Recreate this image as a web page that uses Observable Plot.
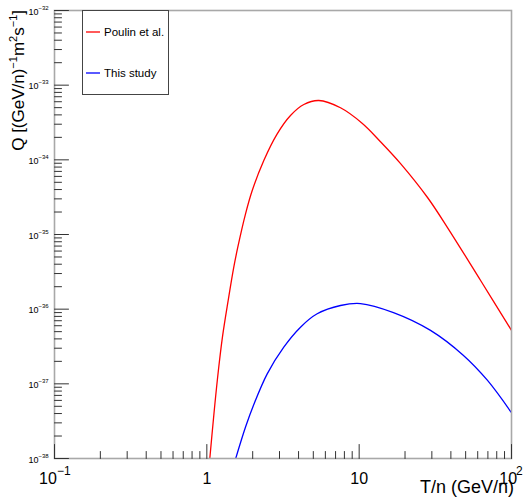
<!DOCTYPE html>
<html>
<head>
<meta charset="utf-8">
<script src="https://cdn.jsdelivr.net/npm/d3@7"></script>
<script src="https://cdn.jsdelivr.net/npm/@observablehq/plot@0.6"></script>
<style>
  html, body { margin: 0; padding: 0; background: #fff; }
  svg { font-family: "Liberation Sans", Arial, sans-serif; }
</style>
</head>
<body>
<div id="chart"></div>
<script>
// ---- data ----
const seriesNames = ["Poulin et al.", "This study"];
const seriesColors = ["#ff0000", "#0000ff"];

const poulinT = [1.046, 1.106, 1.175, 1.268, 1.381, 1.503, 1.597, 1.795, 1.986, 2.366, 2.897, 3.541, 4.332, 5.433, 7.54, 10.5, 13.8, 18.7, 28.1, 38, 62.7, 100];
const poulinQ = [1e-38, 3.44e-38, 1.18e-37, 4.31e-37, 1.31e-36, 3.65e-36, 6.76e-36, 1.89e-35, 3.88e-35, 9.8e-35, 2.23e-34, 3.93e-34, 5.51e-34, 6.23e-34, 4.98e-34, 3.07e-34, 1.75e-34, 8.9e-35, 3.13e-35, 1.24e-35, 2.42e-36, 5.2e-37];

const studyT = [1.547, 1.795, 2.034, 2.491, 3.2, 4.12, 5.3, 7.54, 10.2, 16.8, 29.4, 48.4, 69.6, 100];
const studyQ = [1e-38, 2.64e-38, 5.29e-38, 1.36e-37, 3.1e-37, 5.74e-37, 8.67e-37, 1.12e-36, 1.19e-36, 9.0e-37, 5.2e-37, 2.4e-37, 1.11e-37, 4.1e-38];

const xMajor = [0.1, 1, 10, 100];
const xLabelBase = ["10", "1", "10", "10"];
const xLabelExp = ["\u22121", "", "", "2"];
const yMajor = [1e-38, 1e-37, 1e-36, 1e-35, 1e-34, 1e-33, 1e-32];
const yLabelExp = ["\u221238", "\u221237", "\u221236", "\u221235", "\u221234", "\u221233", "\u221232"];
const minorMultipliers = [2, 3, 4, 5, 6, 7, 8, 9];

const xTitle = "T/n (GeV/n)";

// ---- derived tables ----
const rows = [
  ...poulinT.map((t, i) => ({T: t, Q: poulinQ[i], s: seriesNames[0]})),
  ...studyT.map((t, i) => ({T: t, Q: studyQ[i], s: seriesNames[1]}))
];
const xMinor = xMajor.slice(0, -1).flatMap(d => minorMultipliers.map(m => d * m));
const yMinor = yMajor.slice(0, -1).flatMap(d => minorMultipliers.map(m => d * m));
const xLabels = xMajor.map((v, i) => ({v, base: xLabelBase[i], exp: xLabelExp[i]}));
const yLabels = yMajor.map((v, i) => ({v, exp: yLabelExp[i]}));

const tickShape = { draw(context, l) { context.moveTo(0, 0); context.lineTo(0, -l); } };
const tickColor = "#333";

// x label layout: whole "base^exp" group centered on the tick
const baseW = b => b.length * 8.9;
const expW = e => e.length * 6.5;
const groupStart = d => -(baseW(d.base) + expW(d.exp)) / 2;

const W = 526, H = 498;
const chart = Plot.plot({
  width: W,
  height: H,
  marginLeft: 54,
  marginRight: 15,
  marginTop: 10,
  marginBottom: 40,
  style: {fontFamily: "Liberation Sans, Arial, sans-serif", background: "#fff"},
  x: {type: "log", domain: [0.1, 100], axis: null},
  y: {type: "log", domain: [1e-38, 1e-32], axis: null},
  color: {domain: seriesNames, range: seriesColors},
  marks: [
    Plot.line(rows, {x: "T", y: "Q", z: "s", stroke: "s", strokeWidth: 1.3, curve: "catmull-rom", clip: true}),
    Plot.frame({stroke: "#a8a8a8", strokeWidth: 1.6}),
    // x ticks (inside, upward)
    Plot.vector(xMinor, {x: d => d, frameAnchor: "bottom", length: 7, rotate: 0, anchor: "start", shape: tickShape, stroke: tickColor, strokeWidth: 1}),
    Plot.vector(xMajor, {x: d => d, frameAnchor: "bottom", length: 14, rotate: 0, anchor: "start", shape: tickShape, stroke: tickColor, strokeWidth: 1}),
    // y ticks (inside, rightward)
    Plot.vector(yMinor, {y: d => d, frameAnchor: "left", length: 7, rotate: 90, anchor: "start", shape: tickShape, stroke: tickColor, strokeWidth: 1}),
    Plot.vector(yMajor, {y: d => d, frameAnchor: "left", length: 14, rotate: 90, anchor: "start", shape: tickShape, stroke: tickColor, strokeWidth: 1}),
    // x tick labels
    Plot.text(xLabels, {x: "v", frameAnchor: "bottom", text: "base", fontSize: 16, textAnchor: "start", lineAnchor: "bottom",
      dy: 25, fill: "#000", className: "xbase"}),
    Plot.text(xLabels, {x: "v", frameAnchor: "bottom", text: "exp", fontSize: 12, textAnchor: "start", lineAnchor: "bottom",
      dy: 16, fill: "#000", className: "xexp"}),
    // y tick labels
    Plot.text(yLabels, {y: "v", frameAnchor: "left", text: () => "10", fontSize: 9, textAnchor: "end", lineAnchor: "bottom", dx: -16, dy: 4, fill: "#000"}),
    Plot.text(yLabels, {y: "v", frameAnchor: "left", text: "exp", fontSize: 6, textAnchor: "start", lineAnchor: "bottom", dx: -16, dy: -1, fill: "#000"})
  ]
});

const svg = d3.select(chart);

// position x tick-label pieces so each group is centered on its tick
svg.selectAll(".xbase text").each(function(_, i) {
  d3.select(this).attr("dx", groupStart(xLabels[i]));
});
svg.selectAll(".xexp text").each(function(_, i) {
  const d = xLabels[i];
  d3.select(this).attr("dx", groupStart(d) + baseW(d.base));
});

// x axis title
svg.append("text")
  .attr("x", 514).attr("y", 493)
  .attr("text-anchor", "end")
  .attr("font-size", 18)
  .attr("fill", "#000")
  .text(xTitle);

// y axis title with superscripts
const yt = svg.append("text")
  .attr("transform", "translate(24,10) rotate(-90)")
  .attr("text-anchor", "end")
  .attr("font-size", 17)
  .attr("fill", "#000");
yt.append("tspan").text("Q [(GeV/n)");
yt.append("tspan").attr("font-size", 11).attr("dy", -7).text("\u22121");
yt.append("tspan").attr("dy", 7).text("m");
yt.append("tspan").attr("font-size", 11).attr("dy", -7).text("2");
yt.append("tspan").attr("dy", 7).text("s");
yt.append("tspan").attr("font-size", 11).attr("dy", -7).text("\u22121");
yt.append("tspan").attr("dy", 7).text("]");

// legend box
const lg = svg.append("g").attr("text-anchor", "start");
lg.append("rect").attr("x", 82.5).attr("y", 10.5).attr("width", 86).attr("height", 84)
  .attr("fill", "#fff").attr("stroke", "#444").attr("stroke-width", 1);
const legendY = [32, 73];
seriesNames.forEach((name, i) => {
  lg.append("line").attr("x1", 86).attr("x2", 100).attr("y1", legendY[i]).attr("y2", legendY[i])
    .attr("stroke", seriesColors[i]).attr("stroke-width", 1.3);
  lg.append("text").attr("x", 104).attr("y", legendY[i] + 4).attr("text-anchor", "start")
    .attr("font-size", 11.5).attr("fill", "#000").text(name);
});

document.getElementById("chart").appendChild(chart);
</script>
</body>
</html>
